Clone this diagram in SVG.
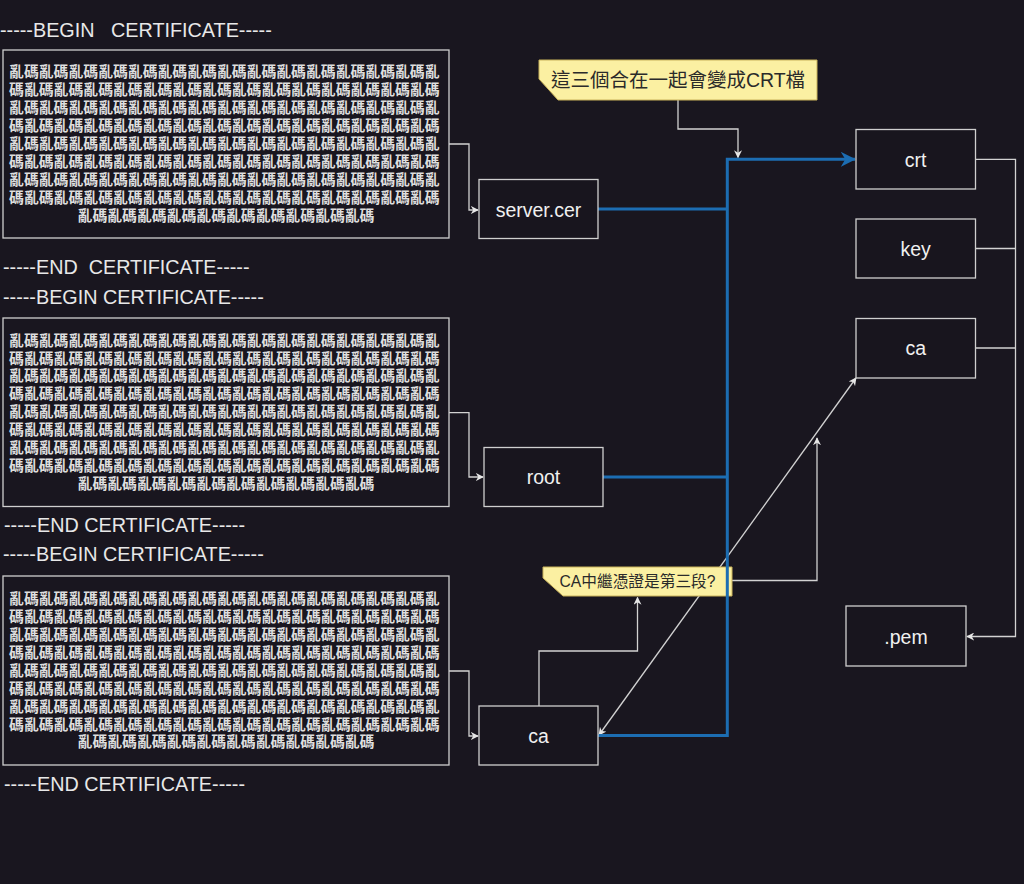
<svg xmlns="http://www.w3.org/2000/svg" width="1024" height="884" viewBox="0 0 1024 884">
<style>
.hdr{font-family:"Liberation Sans",Arial,sans-serif;font-size:19.8px;fill:#e8e8e8;white-space:pre}
.garb{font-family:"Noto Sans CJK TC","Noto Sans CJK SC",sans-serif;font-size:14.85px;font-weight:bold;fill:#dedede;text-anchor:middle}
.box{fill:none;stroke:#cfcfcf;stroke-width:1.3}
.node rect{fill:#18151e;stroke:#cfcfcf;stroke-width:1.3}
.lbl{font-family:"Liberation Sans",Arial,sans-serif;font-size:19.5px;fill:#f0f0f0;text-anchor:middle}
.gl{fill:none;stroke:#d2d2d2;stroke-width:1.3}
.bl{fill:none;stroke:#1c6db2;stroke-width:3}
.note path{fill:#fbf0a2;stroke:#c9b25a;stroke-width:1}
.ntxt{font-family:"Liberation Sans","Noto Sans CJK TC",sans-serif;fill:#2a2a2a;text-anchor:middle}
</style>
<defs>
<marker id="ag" viewBox="0 0 10 10" refX="9" refY="5" markerWidth="8" markerHeight="8" markerUnits="userSpaceOnUse" orient="auto-start-reverse">
<path d="M0,0 L10,5 L0,10 L3,5 z" fill="#e6e6e6"/>
</marker>
<marker id="ab" viewBox="0 0 10 10" refX="9.5" refY="5" markerWidth="15" markerHeight="15" markerUnits="userSpaceOnUse" orient="auto">
<path d="M0,0 L10,5 L0,10 L3,5 z" fill="#1c6db2"/>
</marker>
</defs>
<rect x="0" y="0" width="1024" height="884" fill="#19161f"/>

<g id="cert-text">
<text class="hdr" x="0" y="37.3">-----BEGIN   CERTIFICATE-----</text>
<text class="hdr" x="3" y="274">-----END  CERTIFICATE-----</text>
<text class="hdr" x="3" y="304">-----BEGIN CERTIFICATE-----</text>
<text class="hdr" x="4" y="531.7">-----END CERTIFICATE-----</text>
<text class="hdr" x="3" y="561">-----BEGIN CERTIFICATE-----</text>
<text class="hdr" x="4" y="790.5">-----END CERTIFICATE-----</text>
</g>

<g id="cert1">
<rect class="box" x="3" y="50" width="446" height="188"/>
<text class="garb">
<tspan x="226" y="77.3">亂碼亂碼亂碼亂碼亂碼亂碼亂碼亂碼亂碼亂碼亂碼亂碼亂碼亂碼亂</tspan>
<tspan x="226" y="95.3">碼亂碼亂碼亂碼亂碼亂碼亂碼亂碼亂碼亂碼亂碼亂碼亂碼亂碼亂碼</tspan>
<tspan x="226" y="113.3">亂碼亂碼亂碼亂碼亂碼亂碼亂碼亂碼亂碼亂碼亂碼亂碼亂碼亂碼亂</tspan>
<tspan x="226" y="131.3">碼亂碼亂碼亂碼亂碼亂碼亂碼亂碼亂碼亂碼亂碼亂碼亂碼亂碼亂碼</tspan>
<tspan x="226" y="149.3">亂碼亂碼亂碼亂碼亂碼亂碼亂碼亂碼亂碼亂碼亂碼亂碼亂碼亂碼亂</tspan>
<tspan x="226" y="167.3">碼亂碼亂碼亂碼亂碼亂碼亂碼亂碼亂碼亂碼亂碼亂碼亂碼亂碼亂碼</tspan>
<tspan x="226" y="185.3">亂碼亂碼亂碼亂碼亂碼亂碼亂碼亂碼亂碼亂碼亂碼亂碼亂碼亂碼亂</tspan>
<tspan x="226" y="203.3">碼亂碼亂碼亂碼亂碼亂碼亂碼亂碼亂碼亂碼亂碼亂碼亂碼亂碼亂碼</tspan>
<tspan x="226" y="221.3">亂碼亂碼亂碼亂碼亂碼亂碼亂碼亂碼亂碼亂碼</tspan>
</text>
</g>

<g id="cert2">
<rect class="box" x="3" y="318" width="446" height="188.5"/>
<text class="garb">
<tspan x="226" y="345.6">亂碼亂碼亂碼亂碼亂碼亂碼亂碼亂碼亂碼亂碼亂碼亂碼亂碼亂碼亂</tspan>
<tspan x="226" y="363.5">碼亂碼亂碼亂碼亂碼亂碼亂碼亂碼亂碼亂碼亂碼亂碼亂碼亂碼亂碼</tspan>
<tspan x="226" y="381.4">亂碼亂碼亂碼亂碼亂碼亂碼亂碼亂碼亂碼亂碼亂碼亂碼亂碼亂碼亂</tspan>
<tspan x="226" y="399.3">碼亂碼亂碼亂碼亂碼亂碼亂碼亂碼亂碼亂碼亂碼亂碼亂碼亂碼亂碼</tspan>
<tspan x="226" y="417.2">亂碼亂碼亂碼亂碼亂碼亂碼亂碼亂碼亂碼亂碼亂碼亂碼亂碼亂碼亂</tspan>
<tspan x="226" y="435.1">碼亂碼亂碼亂碼亂碼亂碼亂碼亂碼亂碼亂碼亂碼亂碼亂碼亂碼亂碼</tspan>
<tspan x="226" y="453">亂碼亂碼亂碼亂碼亂碼亂碼亂碼亂碼亂碼亂碼亂碼亂碼亂碼亂碼亂</tspan>
<tspan x="226" y="470.9">碼亂碼亂碼亂碼亂碼亂碼亂碼亂碼亂碼亂碼亂碼亂碼亂碼亂碼亂碼</tspan>
<tspan x="226" y="488.8">亂碼亂碼亂碼亂碼亂碼亂碼亂碼亂碼亂碼亂碼</tspan>
</text>
</g>

<g id="cert3">
<rect class="box" x="3" y="576" width="446" height="189"/>
<text class="garb">
<tspan x="226" y="604.2">亂碼亂碼亂碼亂碼亂碼亂碼亂碼亂碼亂碼亂碼亂碼亂碼亂碼亂碼亂</tspan>
<tspan x="226" y="622.1">碼亂碼亂碼亂碼亂碼亂碼亂碼亂碼亂碼亂碼亂碼亂碼亂碼亂碼亂碼</tspan>
<tspan x="226" y="640">亂碼亂碼亂碼亂碼亂碼亂碼亂碼亂碼亂碼亂碼亂碼亂碼亂碼亂碼亂</tspan>
<tspan x="226" y="657.9">碼亂碼亂碼亂碼亂碼亂碼亂碼亂碼亂碼亂碼亂碼亂碼亂碼亂碼亂碼</tspan>
<tspan x="226" y="675.8">亂碼亂碼亂碼亂碼亂碼亂碼亂碼亂碼亂碼亂碼亂碼亂碼亂碼亂碼亂</tspan>
<tspan x="226" y="693.7">碼亂碼亂碼亂碼亂碼亂碼亂碼亂碼亂碼亂碼亂碼亂碼亂碼亂碼亂碼</tspan>
<tspan x="226" y="711.6">亂碼亂碼亂碼亂碼亂碼亂碼亂碼亂碼亂碼亂碼亂碼亂碼亂碼亂碼亂</tspan>
<tspan x="226" y="729.5">碼亂碼亂碼亂碼亂碼亂碼亂碼亂碼亂碼亂碼亂碼亂碼亂碼亂碼亂碼</tspan>
<tspan x="226" y="747.4">亂碼亂碼亂碼亂碼亂碼亂碼亂碼亂碼亂碼亂碼</tspan>
</text>
</g>

<g id="connectors">
<path class="gl" d="M449,144 H469 V210 H478" marker-end="url(#ag)"/>
<path class="gl" d="M449,412.7 H469 V477 H483" marker-end="url(#ag)"/>
<path class="gl" d="M449,671 H469 V736 H478" marker-end="url(#ag)"/>
<path class="gl" d="M678,100 V129 H738 V157.5" marker-end="url(#ag)"/>
<path class="gl" d="M539,706 V651 H637.5 V597.5" marker-end="url(#ag)"/>
<path class="gl" d="M732,580.5 H817 V438" marker-end="url(#ag)"/>
<path class="gl" d="M599,735 L856,378" stroke="#bdbdbd" marker-start="url(#ag)" marker-end="url(#ag)"/>
<path class="gl" d="M976,159.3 H1015.5 V636.5 H967" marker-end="url(#ag)"/>
<path class="gl" d="M976,248.5 H1015.5"/>
<path class="gl" d="M976,348 H1015.5"/>
</g>

<g id="note1" class="note">
<path d="M539,60 H817 V100 H558 L539,79 Z"/>
<text class="ntxt" x="678" y="86.5" font-size="19.5">這三個合在一起會變成CRT檔</text>
</g>
<g id="note2" class="note">
<path d="M543,567 H732 V596 H563 L543,578 Z"/>
<text class="ntxt" x="637.5" y="586.7" font-size="15.7">CA中繼憑證是第三段?</text>
</g>

<g id="blue-connectors">
<path class="bl" d="M598,209 H727.3"/>
<path class="bl" d="M603,477 H727.3"/>
<path class="bl" d="M598,735.5 H727.3 V159.3 H855" marker-end="url(#ab)"/>
</g>

<g id="node-server" class="node">
<rect x="479" y="179.5" width="119" height="59"/>
<text class="lbl" x="538.5" y="216.5">server.cer</text>
</g>
<g id="node-root" class="node">
<rect x="484" y="447.5" width="119" height="59"/>
<text class="lbl" x="543.5" y="484">root</text>
</g>
<g id="node-ca-left" class="node">
<rect x="479" y="706" width="119" height="59"/>
<text class="lbl" x="538.5" y="742.5">ca</text>
</g>
<g id="node-crt" class="node">
<rect x="856" y="129.5" width="119.5" height="59.5"/>
<text class="lbl" x="915.7" y="166.5">crt</text>
</g>
<g id="node-key" class="node">
<rect x="856" y="219" width="119.5" height="59"/>
<text class="lbl" x="915.7" y="256">key</text>
</g>
<g id="node-ca-right" class="node">
<rect x="856" y="318.5" width="119.5" height="59.5"/>
<text class="lbl" x="915.7" y="355">ca</text>
</g>
<g id="node-pem" class="node">
<rect x="846" y="606" width="120" height="60"/>
<text class="lbl" x="906" y="644">.pem</text>
</g>
</svg>
